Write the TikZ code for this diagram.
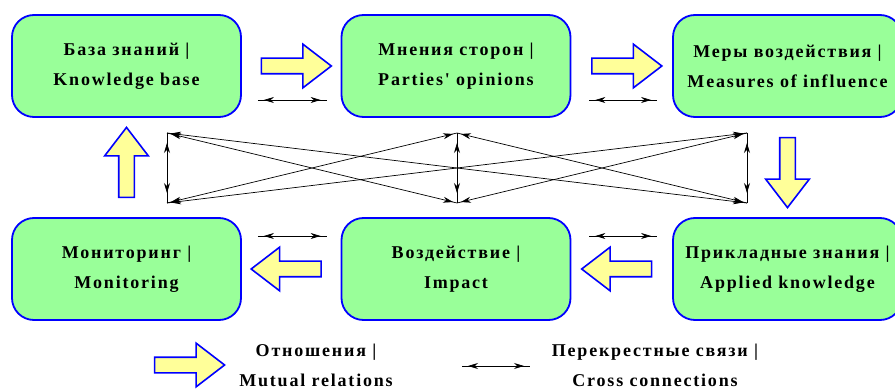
\documentclass[tikz,border=0pt]{standalone}
\usepackage{fontspec}
\setmainfont{Liberation Serif}
\newfontfamily\labelfont[LetterSpace=10]{Liberation Serif}
\usetikzlibrary{positioning,calc,shapes.arrows,arrows.meta,decorations.markings}

\definecolor{boxgreen}{RGB}{153,255,153}
\definecolor{boxblue}{RGB}{0,0,255}
\definecolor{fatyellow}{RGB}{255,255,153}

\begin{document}
\begin{tikzpicture}[
            x=1pt, y=-1pt,
            stage node/.style={rectangle,rounded corners=22pt,draw=boxblue,line width=1.8pt,fill=boxgreen,
                minimum width=229pt,minimum height=102pt,align=center,
                font=\labelfont\bfseries\fontsize{18}{30}\selectfont},
            legend text/.style={align=center,font=\labelfont\bfseries\fontsize{18}{30}\selectfont},
            fat arrow/.style={single arrow,draw=boxblue,line width=1.6pt,fill=fatyellow,
                minimum height=70pt,inner xsep=0pt,inner ysep=7pt,
                single arrow head extend=14pt,single arrow tip angle=75},
            cross/.style={draw,line width=0.7pt,postaction={decorate},
                decoration={markings,
                    mark=at position #1 with {\arrowreversed{Stealth[length=10pt,width=6pt]}},
                    mark=at position -#1 with {\arrow{Stealth[length=10pt,width=6pt]}}}},
            cross/.default=6pt,
        ]
            \useasboundingbox (0,0) rectangle (895,390);
            \clip (0,0) rectangle (895,390);

            % stages
            \node[stage node] (base) at (126.5,66) {База знаний |\\Knowledge base};
            \node[stage node] (opinions) at (456,66) {Мнения сторон |\\Parties' opinions};
            \node[stage node] (measures) at (787.5,66) {Меры воздействия |\\Measures of influence};
            \node[stage node] (monitoring) at (126.5,269) {Мониторинг |\\Monitoring};
            \node[stage node] (impact) at (456,269) {Воздействие |\\Impact};
            \node[stage node] (applied) at (787.5,269) {Прикладные знания |\\Applied knowledge};

            % mutual relations
            \node[fat arrow] (base-opinions) at ($(base.east)!0.5!(opinions.west)$) {};
            \node[fat arrow] (opinions-measures) at ($(opinions.east)!0.5!(measures.west)$) {};
            \node[fat arrow,rotate=-90] (measures-applied) at ($(measures.south)!0.5!(applied.north)$) {};
            \node[fat arrow,rotate=180] (applied-impact) at ($(applied.west)!0.5!(impact.east)$) {};
            \node[fat arrow,rotate=180] (impact-monitoring) at ($(impact.west)!0.5!(monitoring.east)$) {};
            \node[fat arrow,rotate=90] (monitoring-base) at ($(monitoring.north)!0.5!(base.south)$) {};

            % cross connections between neighbours
            \draw[cross] ($(base.east)+(16,34)$) -- ($(opinions.west)+(-14,34)$);
            \draw[cross] ($(opinions.east)+(18,34)$) -- ($(measures.west)+(-15,34)$);
            \draw[cross] ($(monitoring.east)+(16,-33)$) -- ($(impact.west)+(-14,-33)$);
            \draw[cross] ($(impact.east)+(18,-33)$) -- ($(applied.west)+(-15,-33)$);

            % cross connections in the middle
            \coordinate (tl) at (167,133);
            \coordinate (tm) at (457,133);
            \coordinate (tr) at (747,133);
            \coordinate (bl) at (167,203);
            \coordinate (bm) at (457,203);
            \coordinate (br) at (747,203);
            \foreach \a/\b in {tl/bl,tm/bm,tr/br}
                \draw[cross=10pt] (\a) -- (\b);
            \foreach \a/\b in {tl/br,bl/tr,tl/bm,bl/tm,tm/br,bm/tr}
                \draw[cross=4pt] (\a) -- (\b);

            % legend
            \node[fat arrow] (legend-arrow) at (184.5,365) {};
            \node[legend text] (legend-mutual) at (316,365) {Отношения |\\Mutual relations};
            \coordinate (legend-from) at (462,366);
            \coordinate (legend-to) at (530,366);
            \draw[cross] (legend-from) -- (legend-to);
            \node[legend text] (legend-cross) at (655,365) {Перекрестные связи |\\Cross connections};
        \end{tikzpicture}
\end{document}
